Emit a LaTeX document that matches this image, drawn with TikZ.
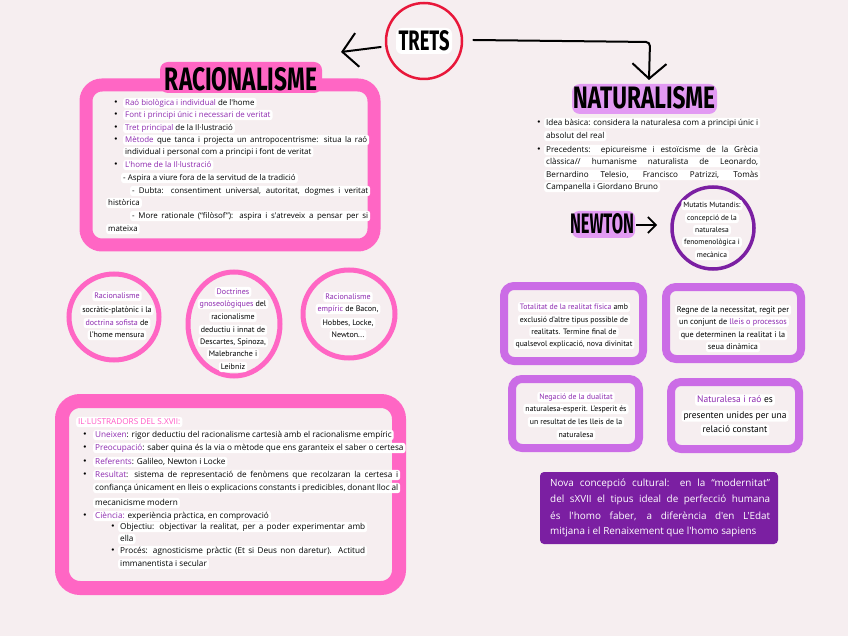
\documentclass[tikz,border=0pt]{standalone}
\usepackage{fontspec}
\usepackage{graphicx}
\setmainfont{PT Sans}
\newfontfamily\ttl{Fira Sans}
\newfontfamily\wide{Open Sans}
\usetikzlibrary{arrows.meta}
\definecolor{bg}{HTML}{F6EEF0}
\definecolor{pinkb}{HTML}{FF66C4}
\definecolor{purb}{HTML}{CB6CE6}
\definecolor{dpur}{HTML}{7B1FA2}
\definecolor{redc}{HTML}{E8173A}
\definecolor{ptxt}{HTML}{8E2BB0}
\definecolor{hpur}{HTML}{E29AF3}
\definecolor{ptk}{HTML}{FF5CC6}
\newcommand\curf{\fontsize{7.8}{9}\selectfont}
\newcommand\pu[1]{\textcolor{ptxt}{#1}}
\newcommand\jb[2]{\makebox[#1][s]{#2}}
\newcommand\ttlbox[3]{\resizebox{#1}{#2}{\ttl\bfseries #3}}
\begin{document}
\begin{tikzpicture}[x=1pt,y=-1pt,
  tl/.style={font=\curf, fill=white, rounded corners=2.5pt, inner xsep=2pt, inner ysep=1.2pt, anchor=west, text height=6pt, text depth=1.8pt},
  tc/.style={tl, anchor=center},
  bl/.style={font=\fontsize{8}{9}\selectfont, inner sep=0pt, anchor=center},
  barrow/.style={line width=2pt, line cap=round, -{Straight Barb[length=15pt,width=34pt,line width=2pt]}},
  sarrow/.style={line width=1.6pt, -{Straight Barb[length=8pt,width=16pt,line width=1.6pt]}},
  pbox/.style={purb, line width=8pt, rounded corners=10pt},
  dk/.style={font=\wide\fontsize{9.9}{12}\selectfont, text=white, inner sep=0pt, anchor=west}
]
\fill[bg] (0,0) rectangle (848,636);
\useasboundingbox (0,0) rectangle (848,636);

% ---------- TRETS
\node[draw=redc, line width=2.5pt, circle, minimum size=76pt, inner sep=0pt] (trets) at (424,41) {};
\fill[white, rounded corners=6pt] (396,28) rectangle (452,54);
\node[inner sep=0pt] (tretsT) at (424,41) {\ttlbox{51pt}{20pt}{TRETS}};
\coordinate (lt) at (341,52);
\draw[barrow] ([shift={(-4pt,-6pt)}]trets.west) -- (lt);
\coordinate (rt) at (649,80);
\coordinate (rc) at (650,42);
\draw[barrow, rounded corners=4pt] ([xshift=10pt,yshift=1pt]trets.east) -- (rc) -- (rt);

% ---------- RACIONALISME box
\draw[pinkb, line width=13pt, rounded corners=16pt] (86,85) rectangle (374,245);
\fill[pinkb, rounded corners=8pt] (160,62) rectangle (322,93);
\node[inner sep=0pt] (rac) at (241,79) {\ttlbox{152pt}{23pt}{RACIONALISME}};

\begin{scope}
\def\curf{\wide\fontsize{7.9}{9}\selectfont}
\node[bl] (rb1) at (116,103) {•}; \node[tl] (r1) at (123,103) {\pu{Raó biològica i individual} de l'home};
\node[bl] (rb2) at (116,115) {•}; \node[tl] (r2) at (123,115) {\pu{Font i principi únic i necessari de veritat}};
\node[bl] (rb3) at (116,128) {•}; \node[tl] (r3) at (123,128) {\pu{Tret principal} de la Il·lustració};
\node[bl] (rb4) at (116,140) {•}; \node[tl] (r4) at (123,140) {\jb{242pt}{\pu{Mètode} que tanca i projecta un antropocentrisme: situa la raó}};
\node[tl] (r5) at (123,152) {individual i personal com a principi i font de veritat};
\node[bl] (rb6) at (116,165) {•}; \node[tl] (r6) at (123,165) {\pu{L'home de la Il·lustració}};
\node[tl] (r7) at (121,178) {- Aspira a viure fora de la servitud de la tradició};
\node[tl] (r8) at (130,191) {\jb{236pt}{- Dubta: consentiment universal, autoritat, dogmes i veritat}};
\node[tl] (r9) at (106,203) {històrica};
\node[tl] (r10) at (130,216) {\jb{236pt}{- More rationale (“filòsof”): aspira i s'atreveix a pensar per si}};
\node[tl] (r11) at (106,229) {mateixa};
\end{scope}

% ---------- circles
\begin{scope}
\def\curf{\fontsize{8}{9}\selectfont}
\draw[pinkb, line width=5pt] (114,317) ellipse [x radius=45pt, y radius=43pt];
\node[tc] (c1a) at (117,296) {\pu{Racionalisme}};
\node[tc] (c1b) at (117,310) {socràtic-platònic i la};
\node[tc] (c1c) at (117,323) {\pu{doctrina sofista} de};
\node[tc] (c1d) at (117,335) {l'home mensura};

\draw[pinkb, line width=5pt] (234,324) ellipse [x radius=46pt, y radius=52pt];
\node[tc] (c2a) at (233,292) {\pu{Doctrines}};
\node[tc] (c2b) at (233,304) {\pu{gnoseològiques} del};
\node[tc] (c2c) at (233,317) {racionalisme};
\node[tc] (c2d) at (233,330) {deductiu i innat de};
\node[tc] (c2e) at (233,342) {Descartes, Spinoza,};
\node[tc] (c2f) at (233,354) {Malebranche i};
\node[tc] (c2g) at (233,367) {Leibniz};

\draw[pinkb, line width=5pt] (349,314) ellipse [x radius=46pt, y radius=44pt];
\node[tc] (c3a) at (348,297) {\pu{Racionalisme}};
\node[tc] (c3b) at (348,309) {\pu{empíric} de Bacon,};
\node[tc] (c3c) at (348,323) {Hobbes, Locke,};
\node[tc] (c3d) at (348,335) {Newton...};
\end{scope}

% ---------- bottom pink box
\draw[pinkb, line width=14pt, rounded corners=18pt] (62,401) rectangle (399,588);
\begin{scope}
\def\curf{\wide\fontsize{8.2}{9.5}\selectfont}
\node[tl, text=ptk] (il) at (76,422) {IL·LUSTRADORS DEL S.XVII:};
\node[bl] (bb1) at (85,435) {•}; \node[tl] (b1) at (93,435) {\pu{Uneixen}: rigor deductiu del racionalisme cartesià amb el racionalisme empíric};
\node[bl] (bb2) at (85,448) {•}; \node[tl] (b2) at (93,448) {\pu{Preocupació}: saber quina és la via o mètode que ens garanteix el saber o certesa};
\node[bl] (bb3) at (85,462) {•}; \node[tl] (b3) at (93,462) {\pu{Referents}: Galileo, Newton i Locke};
\node[bl] (bb4) at (85,475) {•}; \node[tl] (b4) at (93,475) {\jb{303pt}{\pu{Resultat}: sistema de representació de fenòmens que recolzaran la certesa i}};
\node[tl] (b5) at (93,488) {\jb{303pt}{confiança únicament en lleis o explicacions constants i predicibles, donant lloc al}};
\node[tl] (b6) at (93,503) {mecanicisme modern};
\node[bl] (bb7) at (85,516) {•}; \node[tl] (b7) at (93,516) {\pu{Ciència:} experiència pràctica, en comprovació};
\node[bl] (sb1) at (113,527) {•}; \node[tl] (s1) at (118,527) {\jb{245pt}{Objectiu: objectivar la realitat, per a poder experimentar amb}};
\node[tl] (s2) at (118,539) {ella};
\node[bl] (sb2) at (113,551) {•}; \node[tl] (s3) at (118,551) {\jb{245pt}{Procés: agnosticisme pràctic (Et si Deus non daretur). Actitud}};
\node[tl] (s4) at (118,564) {immanentista i secular};
\end{scope}

% ---------- NATURALISME
\fill[hpur, rounded corners=8pt] (572,84) rectangle (717,114);
\node[inner sep=0pt] (nat) at (644,98) {\ttlbox{142pt}{22pt}{NATURALISME}};
\begin{scope}
\def\curf{\wide\fontsize{8.1}{9}\selectfont}
\node[bl] (nb1) at (539,123) {•}; \node[tl] (n1) at (544,123) {\jb{212pt}{Idea bàsica: considera la naturalesa com a principi únic i}};
\node[tl] (n2) at (544,136) {absolut del real};
\node[bl] (nb3) at (539,150) {•}; \node[tl] (n3) at (544,150) {\jb{212pt}{Precedents: epicureisme i estoïcisme de la Grècia}};
\node[tl] (n4) at (544,162) {\jb{212pt}{clàssica// humanisme naturalista de Leonardo,}};
\node[tl] (n5) at (544,175) {\jb{212pt}{Bernardino Telesio, Francisco Patrizzi, Tomàs}};
\node[tl] (n6) at (544,187) {Campanella i Giordano Bruno};
\end{scope}

% ---------- NEWTON
\fill[hpur, rounded corners=7pt] (572,211) rectangle (635,238);
\node[inner sep=0pt] (newt) at (602,224) {\ttlbox{64pt}{20pt}{NEWTON}};
\coordinate (na) at (657,225);
\draw[sarrow] ([xshift=2pt,yshift=-1pt]newt.east) -- (na);
\node[draw=dpur, line width=3.5pt, circle, minimum size=82pt, inner sep=0pt] (mm) at (713,228) {};
\begin{scope}
\def\curf{\fontsize{7.5}{9}\selectfont}
\node[tc] (m1) at (712,205) {Mutatis Mutandis:};
\node[tc] (m2) at (712,218) {concepció de la};
\node[tc] (m3) at (712,230) {naturalesa};
\node[tc] (m4) at (712,242) {fenomenològica i};
\node[tc] (m5) at (712,255) {mecànica};
\end{scope}

% ---------- purple boxes
\draw[pbox] (504,286) rectangle (643,361);
\node[tc] (pa1) at (574,307) {\pu{Totalitat de la realitat física} amb};
\node[tc] (pa2) at (574,320) {exclusió d'altre tipus possible de};
\node[tc] (pa3) at (574,332) {realitats. Termine final de};
\node[tc] (pa4) at (574,344) {qualsevol explicació, nova divinitat};

\begin{scope}
\def\curf{\fontsize{8.2}{9}\selectfont}
\draw[pbox] (666,287) rectangle (801,359);
\node[tc] (pb1) at (733,310) {Regne de la necessitat, regit per};
\node[tc] (pb2) at (733,322) {un conjunt de \pu{lleis o processos}};
\node[tc] (pb3) at (733,335) {que determinen la realitat i la};
\node[tc] (pb4) at (733,347) {seua dinàmica};
\end{scope}

\draw[pbox] (512,379) rectangle (639,448);
\node[tc] (pc1) at (576,397) {\pu{Negació de la dualitat}};
\node[tc] (pc2) at (576,409) {naturalesa-esperit. L'esperit és};
\node[tc] (pc3) at (576,422) {un resultat de les lleis de la};
\node[tc] (pc4) at (576,435) {naturalesa};

\draw[pbox] (671,382) rectangle (799,449);
\node[tc, font=\fontsize{9.5}{11}\selectfont, text height=7pt, text depth=2pt] (pd1) at (735,400) {\pu{Naturalesa i raó} es};
\node[tc, font=\fontsize{9.5}{11}\selectfont, text height=7pt, text depth=2pt] (pd2) at (735,416) {presenten unides per una};
\node[tc, font=\fontsize{9.5}{11}\selectfont, text height=7pt, text depth=2pt] (pd3) at (735,430) {relació constant};

% ---------- dark box
\fill[dpur, rounded corners=4pt] (540,472) rectangle (778,544);
\node[dk] (d1) at (550,484) {\jb{220pt}{Nova concepció cultural: en la “modernitat”}};
\node[dk] (d2) at (550,500) {\jb{220pt}{del sXVII el tipus ideal de perfecció humana}};
\node[dk] (d3) at (550,516) {\jb{220pt}{és l'homo faber, a diferència d'en L'Edat}};
\node[dk] (d4) at (550,532) {mitjana i el Renaixement que l'homo sapiens};
\end{tikzpicture}
\end{document}
